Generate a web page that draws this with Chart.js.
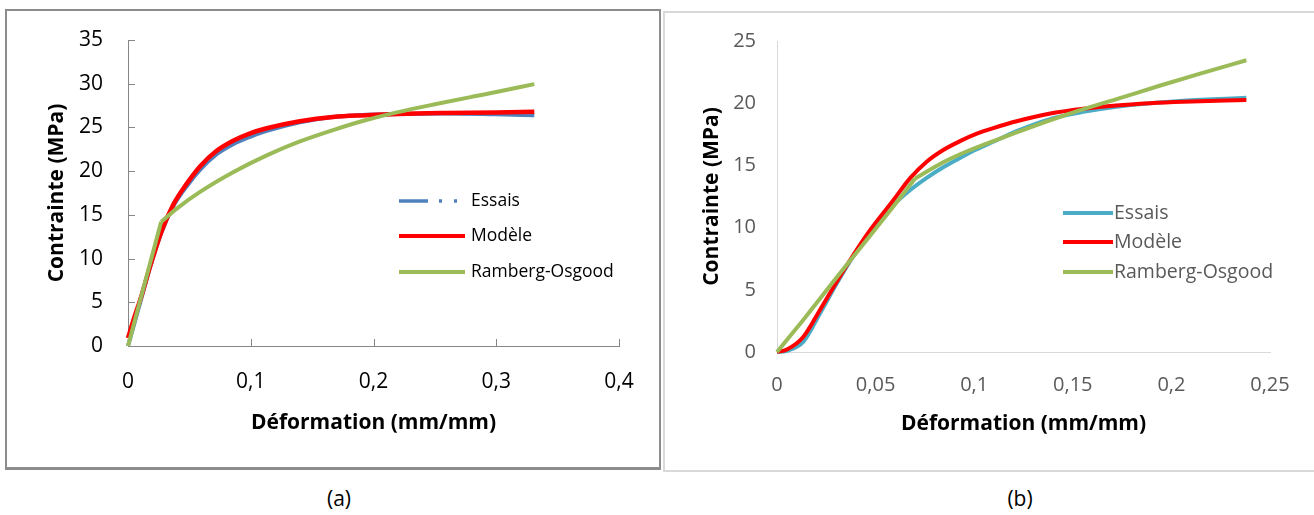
<!DOCTYPE html>
<html lang="fr">
<head>
  <meta charset="UTF-8">
  <title>Contrainte - Déformation</title>
  <script src="https://cdn.jsdelivr.net/npm/chart.js@4.4.0/dist/chart.umd.min.js"></script>
  <style>
    body { margin: 0; background: #fff; }
    #page { position: relative; width: 1314px; height: 515px; overflow: hidden; font-family: "Open Sans", sans-serif; }
    .frame { position: absolute; box-sizing: border-box; }
    #frameA { left: 5px; top: 9px; width: 656px; height: 461px; border: 2px solid #8c8c8c; border-bottom-width: 3px; }
    #frameB { left: 663px; top: 11px; width: 660px; height: 461px; border: 2px solid #d9d9d9; }
    canvas { position: absolute; top: 0; }
    #chartA { left: 0; }
    #chartB { left: 655px; }
    .caption { position: absolute; top: 484px; width: 60px; font-size: 21px; line-height: 28px; text-align: center; color: #000; }
    #capA { left: 309px; }
    #capB { left: 990px; }
  </style>
</head>
<body>
<div id="page">
  <div class="frame" id="frameA"></div>
  <div class="frame" id="frameB"></div>
  <canvas id="chartA" width="660" height="480"></canvas>
  <canvas id="chartB" width="659" height="480"></canvas>
  <div class="caption" id="capA">(a)</div>
  <div class="caption" id="capB">(b)</div>
</div>

<script>
  // ---- (a) ----
  const xTicksA = [0, 0.1, 0.2, 0.3, 0.4];
  const yTicksA = [0, 5, 10, 15, 20, 25, 30, 35];

  const essaisA_x = [0, 0.01, 0.018, 0.027, 0.037, 0.048, 0.059, 0.072, 0.086, 0.099, 0.113, 0.14, 0.167, 0.194, 0.22, 0.26, 0.3, 0.331];
  const essaisA_y = [0, 5.0, 9.0, 12.9, 16.0, 18.3, 20.2, 21.9, 23.1, 23.9, 24.6, 25.6, 26.2, 26.45, 26.55, 26.6, 26.5, 26.4];

  const modeleA_x = [0, 0.005, 0.01, 0.018, 0.027, 0.037, 0.048, 0.059, 0.072, 0.086, 0.099, 0.113, 0.14, 0.167, 0.194, 0.22, 0.26, 0.3, 0.331];
  const modeleA_y = [0.9, 3.2, 5.3, 9.1, 13.0, 16.2, 18.6, 20.6, 22.3, 23.5, 24.3, 24.9, 25.7, 26.2, 26.4, 26.55, 26.65, 26.7, 26.8];

  const rambergA_x = [0, 0.027, 0.04, 0.059, 0.086, 0.113, 0.14, 0.167, 0.194, 0.22, 0.25, 0.28, 0.3, 0.331];
  const rambergA_y = [0, 14.2, 15.75, 17.65, 19.9, 21.8, 23.4, 24.7, 25.85, 26.75, 27.65, 28.5, 29.05, 29.95];
  const rambergA_kink = 1;

  // ---- (b) ----
  const xTicksB = [0, 0.05, 0.1, 0.15, 0.2, 0.25];
  const yTicksB = [0, 5, 10, 15, 20, 25];

  const essaisB_x = [0, 0.005, 0.0134, 0.0218, 0.0303, 0.0387, 0.0463, 0.059, 0.0674, 0.0759, 0.0843, 0.0928, 0.1013, 0.1097, 0.1215, 0.138, 0.1553, 0.172, 0.189, 0.206, 0.238];
  const essaisB_y = [0, 0.1, 0.83, 3.1, 5.5, 7.7, 9.45, 11.8, 13.0, 14.0, 14.85, 15.6, 16.3, 16.9, 17.75, 18.7, 19.3, 19.72, 20.0, 20.2, 20.44];

  const modeleB_x = [0, 0.005, 0.0134, 0.0218, 0.0303, 0.0387, 0.0463, 0.059, 0.0674, 0.0759, 0.0843, 0.0928, 0.1013, 0.1097, 0.1215, 0.138, 0.1553, 0.172, 0.189, 0.206, 0.238];
  const modeleB_y = [0, 0.2, 1.23, 3.38, 5.65, 7.8, 9.6, 12.2, 13.96, 15.3, 16.24, 16.95, 17.55, 18.0, 18.55, 19.15, 19.55, 19.82, 20.0, 20.12, 20.26];

  const rambergB_x = [0, 0.0134, 0.0303, 0.0472, 0.059, 0.07, 0.0843, 0.0928, 0.1013, 0.1097, 0.1215, 0.138, 0.15, 0.1726, 0.194, 0.215, 0.238];
  const rambergB_y = [0, 2.6, 6.0, 9.35, 11.7, 13.95, 15.25, 15.9, 16.45, 16.95, 17.65, 18.6, 19.25, 20.35, 21.4, 22.4, 23.45];
  const rambergB_kink = 5;

  const legendLabels = ['Essais', 'Modèle', 'Ramberg-Osgood'];

  const FONT = '"Open Sans", sans-serif';
  const RED = '#ff0000';
  const GREEN = '#9bbb59';

  function pts(xs, ys) {
    return xs.map((x, i) => ({ x: x, y: ys[i] }));
  }
  function comma(v) {
    return String(v).replace('.', ',');
  }

  // legend drawn inside the plot, like the Excel one
  const boxLegend = {
    id: 'boxLegend',
    afterDatasetsDraw(chart, args, opts) {
      const ctx = chart.ctx;
      ctx.save();
      opts.items.forEach((item, i) => {
        const y = opts.rows[i];
        ctx.beginPath();
        ctx.strokeStyle = item.color;
        ctx.lineWidth = item.width;
        ctx.setLineDash(item.dash || []);
        ctx.moveTo(opts.x0, y);
        ctx.lineTo(opts.x1, y);
        ctx.stroke();
        ctx.setLineDash([]);
        ctx.fillStyle = opts.color;
        ctx.font = opts.size + 'px ' + FONT;
        ctx.textBaseline = 'middle';
        ctx.textAlign = 'left';
        ctx.fillText(legendLabels[i], opts.textX, y);
      });
      ctx.restore();
    }
  };

  // small tick marks pointing into the plot
  const innerTicks = {
    id: 'innerTicks',
    beforeDatasetsDraw(chart, args, opts) {
      if (!opts.length) return;
      const { ctx, chartArea, scales } = chart;
      ctx.save();
      ctx.strokeStyle = opts.color;
      ctx.lineWidth = 1;
      ctx.beginPath();
      scales.x.ticks.forEach(t => {
        const px = Math.round(scales.x.getPixelForValue(t.value)) + 0.5;
        ctx.moveTo(px, chartArea.bottom);
        ctx.lineTo(px, chartArea.bottom - opts.length);
      });
      scales.y.ticks.forEach(t => {
        const py = Math.round(scales.y.getPixelForValue(t.value)) + 0.5;
        ctx.moveTo(chartArea.left, py);
        ctx.lineTo(chartArea.left + opts.length, py);
      });
      ctx.stroke();
      ctx.restore();
    }
  };

  // order: smaller number is drawn on top
  function lineSet(data, color, width, order, mode) {
    return {
      data: data,
      order: order,
      showLine: true,
      borderColor: color,
      borderWidth: width,
      pointRadius: 0,
      fill: false,
      clip: false,
      tension: mode === 'straight' ? 0 : 0.4,
      cubicInterpolationMode: mode === 'straight' ? 'default' : 'monotone'
    };
  }

  function axis(cfg) {
    return {
      type: 'linear',
      min: cfg.min,
      max: cfg.max,
      afterBuildTicks: s => { s.ticks = cfg.ticks.map(v => ({ value: v })); },
      afterFit: s => { if (cfg.width) s.width = cfg.width; if (cfg.height) s.height = cfg.height; },
      grid: { display: false, drawTicks: false },
      border: { display: true, color: cfg.axisColor, width: 1 },
      ticks: {
        padding: cfg.pad,
        color: cfg.tickColor,
        font: { family: FONT, size: cfg.tickSize },
        callback: v => comma(v)
      },
      title: {
        display: true,
        text: cfg.title,
        color: '#000',
        font: { family: FONT, size: 21, weight: 'bold', lineHeight: 1.2 },
        padding: cfg.titlePad
      }
    };
  }

  function makeChart(id, cfg) {
    return new Chart(document.getElementById(id), {
      type: 'scatter',
      data: { datasets: cfg.datasets },
      options: {
        responsive: false,
        animation: false,
        events: [],
        layout: { padding: cfg.padding },
        plugins: {
          legend: { display: false },
          tooltip: { enabled: false },
          boxLegend: cfg.legend,
          innerTicks: cfg.innerTicks
        },
        scales: { x: cfg.x, y: cfg.y }
      },
      plugins: [innerTicks, boxLegend]
    });
  }

  const rambergA = pts(rambergA_x, rambergA_y);
  makeChart('chartA', {
    padding: { top: 40, right: 41, left: 0, bottom: 0 },
    datasets: [
      lineSet(pts(essaisA_x, essaisA_y), '#4f81bd', 4, 3),
      lineSet(pts(modeleA_x, modeleA_y), RED, 4.5, 2),
      lineSet(rambergA.slice(0, rambergA_kink + 1), GREEN, 4, 1, 'straight'),
      lineSet(rambergA.slice(rambergA_kink), GREEN, 4, 1)
    ],
    x: axis({ min: 0, max: 0.4, ticks: xTicksA, height: 134, pad: 23, tickColor: '#000', tickSize: 21, axisColor: '#868686',
              title: 'Déformation (mm/mm)', titlePad: { top: 0, bottom: 44 } }),
    y: axis({ min: 0, max: 35, ticks: yTicksA, width: 128, pad: 25, tickColor: '#000', tickSize: 21, axisColor: '#868686',
              title: 'Contrainte (MPa)', titlePad: { top: 44, bottom: 0 } }),
    innerTicks: { length: 7, color: '#868686' },
    legend: {
      x0: 399, x1: 465, textX: 471, rows: [201, 236, 272], size: 17.5, color: '#000',
      items: [
        { color: '#4f81bd', width: 3.5, dash: [29, 11, 3, 12, 3, 40] },
        { color: RED, width: 4 },
        { color: GREEN, width: 4 }
      ]
    }
  });

  const rambergB = pts(rambergB_x, rambergB_y);
  makeChart('chartB', {
    padding: { top: 41, right: 44, left: 0, bottom: 0 },
    datasets: [
      lineSet(pts(essaisB_x, essaisB_y), '#4bacc6', 4, 3),
      lineSet(pts(modeleB_x, modeleB_y), RED, 4, 2),
      lineSet(rambergB.slice(0, rambergB_kink + 1), GREEN, 4, 1, 'straight'),
      lineSet(rambergB.slice(rambergB_kink), GREEN, 4, 1)
    ],
    x: axis({ min: 0, max: 0.25, ticks: xTicksB, height: 128, pad: 21, tickColor: '#595959', tickSize: 20, axisColor: '#d9d9d9',
              title: 'Déformation (mm/mm)', titlePad: { top: 0, bottom: 43 } }),
    y: axis({ min: 0, max: 25, ticks: yTicksB, width: 122, pad: 21, tickColor: '#595959', tickSize: 20, axisColor: '#d9d9d9',
              title: 'Contrainte (MPa)', titlePad: { top: 44, bottom: 0 } }),
    innerTicks: {},
    legend: {
      x0: 408, x1: 458, textX: 459, rows: [213, 242, 272], size: 19.5, color: '#595959',
      items: [
        { color: '#4bacc6', width: 4 },
        { color: RED, width: 4 },
        { color: GREEN, width: 4 }
      ]
    }
  });
</script>
</body>
</html>
